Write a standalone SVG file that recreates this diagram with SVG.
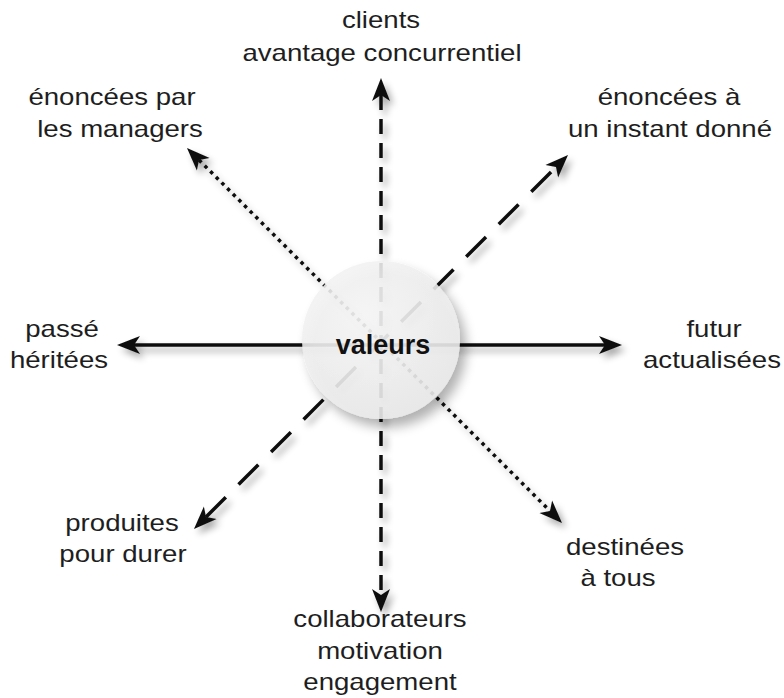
<svg xmlns="http://www.w3.org/2000/svg" width="784" height="698" viewBox="0 0 784 698">
<style>
.lbl{font-family:"Liberation Sans",Arial,Helvetica,sans-serif;font-size:23px;fill:#1e1e1e;text-anchor:middle}
.ln{fill:none;stroke:#111;stroke-width:3.5}
.center{font-family:"Liberation Sans",Arial,Helvetica,sans-serif;font-size:27px;font-weight:bold;fill:#111;text-anchor:middle}
</style>
<defs>
<marker id="ah" markerUnits="userSpaceOnUse" markerWidth="24" markerHeight="20" viewBox="0 0 24 20" refX="6" refY="10" orient="auto-start-reverse">
<path d="M0,1 L23,10 L0,19 L6,10 Z" fill="#111"/>
</marker>
<filter id="sh" x="-20%" y="-20%" width="140%" height="140%">
<feGaussianBlur in="SourceAlpha" stdDeviation="3.5"/>
<feOffset dx="4" dy="5" result="b"/>
<feComponentTransfer><feFuncA type="linear" slope="0.35"/></feComponentTransfer>
<feMerge><feMergeNode/><feMergeNode in="SourceGraphic"/></feMerge>
</filter>
<filter id="csh" x="-30%" y="-30%" width="160%" height="160%">
<feGaussianBlur in="SourceAlpha" stdDeviation="6"/>
<feOffset dx="6" dy="8" result="b"/>
<feComponentTransfer><feFuncA type="linear" slope="0.35"/></feComponentTransfer>
<feMerge><feMergeNode/><feMergeNode in="SourceGraphic"/></feMerge>
</filter>
<radialGradient id="cg" cx="40%" cy="35%" r="70%">
<stop offset="0" stop-color="#f8f8f8"/>
<stop offset="1" stop-color="#eaeaea"/>
</radialGradient>
</defs>
<rect width="784" height="698" fill="#fff"/>
<g id="connectors" filter="url(#sh)">
<line class="ln" x1="381" y1="95" x2="381" y2="595" stroke-dasharray="15 9" marker-start="url(#ah)" marker-end="url(#ah)"/>
<line class="ln" x1="134" y1="345" x2="605" y2="345" stroke-width="3" marker-start="url(#ah)" marker-end="url(#ah)"/>
<line class="ln" x1="199" y1="160" x2="550" y2="511" stroke-dasharray="3.5 4.5" marker-start="url(#ah)" marker-end="url(#ah)"/>
<line class="ln" x1="206" y1="517" x2="556" y2="167" stroke-dasharray="28 18" marker-start="url(#ah)" marker-end="url(#ah)"/>
</g>
<g id="valeurs">
<circle cx="381" cy="340" r="79" fill="url(#cg)" fill-opacity="0.88" filter="url(#csh)"/>
<text class="center" x="383" y="354">valeurs</text>
</g>
<g id="top">
<text class="lbl" transform="translate(381,0) scale(1.2,1)" y="28">clients</text>
<text class="lbl" transform="translate(382,0) scale(1.2,1)" y="61">avantage concurrentiel</text>
</g>
<g id="top-left">
<text class="lbl" transform="translate(112,0) scale(1.2,1)" y="105">énoncées par</text>
<text class="lbl" transform="translate(120,0) scale(1.2,1)" y="137">les managers</text>
</g>
<g id="top-right">
<text class="lbl" transform="translate(669,0) scale(1.2,1)" y="105">énoncées à</text>
<text class="lbl" transform="translate(670,0) scale(1.2,1)" y="137">un instant donné</text>
</g>
<g id="left">
<text class="lbl" transform="translate(62,0) scale(1.2,1)" y="337">passé</text>
<text class="lbl" transform="translate(59,0) scale(1.2,1)" y="368">héritées</text>
</g>
<g id="right">
<text class="lbl" transform="translate(714,0) scale(1.2,1)" y="337">futur</text>
<text class="lbl" transform="translate(712,0) scale(1.2,1)" y="368">actualisées</text>
</g>
<g id="bottom-left">
<text class="lbl" transform="translate(122,0) scale(1.2,1)" y="531">produites</text>
<text class="lbl" transform="translate(123,0) scale(1.2,1)" y="562">pour durer</text>
</g>
<g id="bottom-right">
<text class="lbl" transform="translate(625,0) scale(1.2,1)" y="555">destinées</text>
<text class="lbl" transform="translate(618,0) scale(1.2,1)" y="586">à tous</text>
</g>
<g id="bottom">
<text class="lbl" transform="translate(380,0) scale(1.2,1)" y="627">collaborateurs</text>
<text class="lbl" transform="translate(380,0) scale(1.2,1)" y="659">motivation</text>
<text class="lbl" transform="translate(380,0) scale(1.2,1)" y="690">engagement</text>
</g>
</svg>
